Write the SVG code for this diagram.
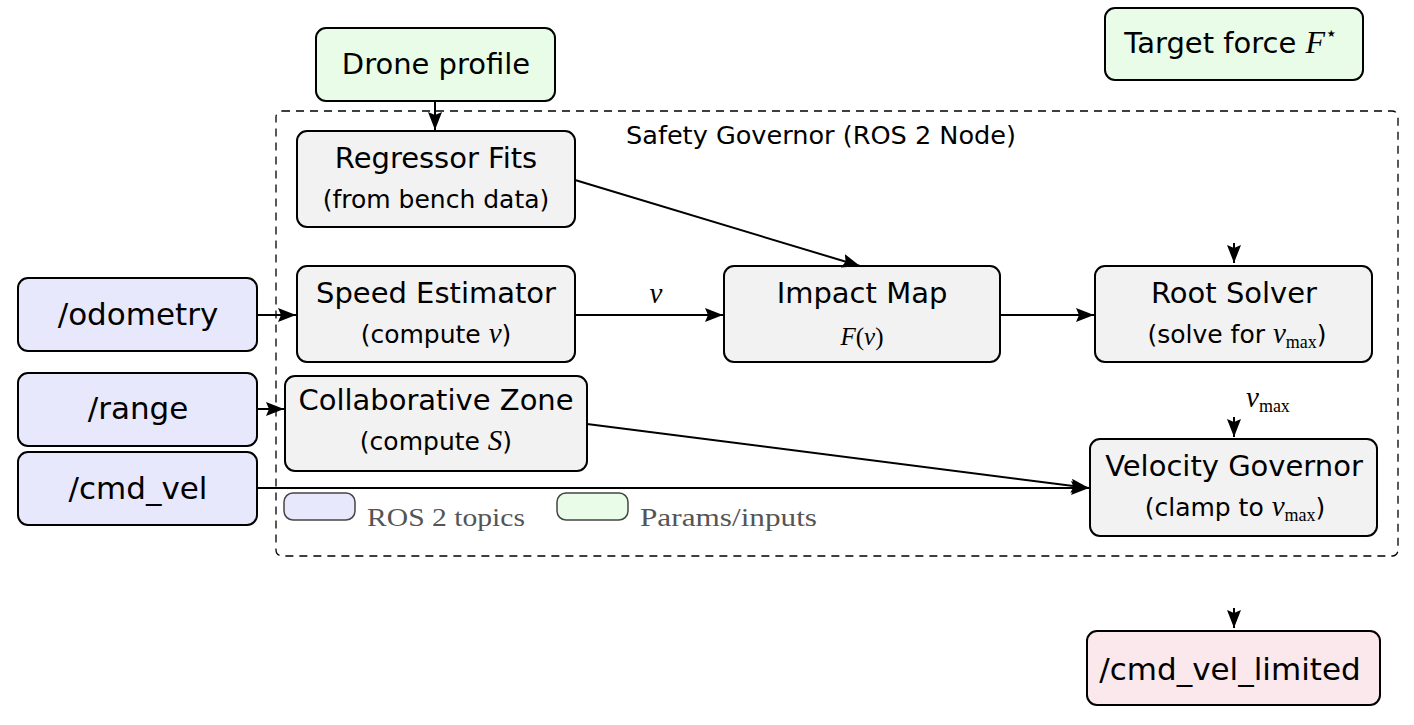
<svg xmlns="http://www.w3.org/2000/svg" width="1414" height="725" viewBox="0 0 1414 725">
<defs>
<marker id="arr" markerUnits="userSpaceOnUse" markerWidth="22" markerHeight="18" refX="18" refY="7" orient="auto">
<path d="M0,0 L18,7 L0,14 L3,7 z" fill="#000"/>
</marker>
<style>
.box{stroke:#000;stroke-width:2}
.topic{fill:#e8e8fc}
.param{fill:#e8fce8}
.proc{fill:#f2f2f2}
.out{fill:#fbe8ec}
.t{font-family:"DejaVu Sans",sans-serif;font-size:29px;fill:#000;text-anchor:middle}
.s{font-family:"DejaVu Sans",sans-serif;font-size:25px;fill:#000;text-anchor:middle}
.tp{font-family:"DejaVu Sans",sans-serif;font-size:31px;fill:#000;text-anchor:middle}
.m{font-family:"Liberation Serif",serif;font-style:italic}
.sub{font-family:"Liberation Serif",serif;font-style:normal;font-size:18px}
.leg{font-family:"Liberation Serif",serif;font-size:25px;fill:#555}
.c{stroke:#000;stroke-width:2;fill:none}
</style>
</defs>
<rect x="0" y="0" width="1414" height="725" fill="#fff"/>

<g id="container">
<rect x="276" y="111" width="1122" height="445" rx="6" fill="none" stroke="#000" stroke-width="1.3" stroke-dasharray="8,6"/>
<text x="821" y="144" font-family="DejaVu Sans,sans-serif" font-size="24" text-anchor="middle" fill="#000" textLength="390" lengthAdjust="spacingAndGlyphs">Safety Governor (ROS 2 Node)</text>
</g>

<g id="drone-profile">
<rect class="box param" x="316" y="28" width="239" height="73" rx="10"/>
<text class="t" x="436" y="74">Drone profile</text>
</g>
<g id="target-force">
<rect class="box param" x="1105" y="8" width="258" height="72" rx="10"/>
<text class="t" x="1231" y="53">Target force <tspan class="m" font-size="32">F</tspan><tspan font-size="20" dy="-13">⋆</tspan></text>
</g>
<g id="regressor">
<rect class="box proc" x="297" y="131" width="278" height="96" rx="10"/>
<text class="t" x="436" y="168">Regressor Fits</text>
<text class="s" x="436" y="208">(from bench data)</text>
</g>
<g id="speed-estimator">
<rect class="box proc" x="297" y="266" width="278" height="96" rx="10"/>
<text class="t" x="436" y="303">Speed Estimator</text>
<text class="s" x="436" y="343">(compute <tspan class="m" font-size="29">v</tspan>)</text>
</g>
<g id="collab-zone">
<rect class="box proc" x="285" y="376" width="302" height="95" rx="10"/>
<text class="t" x="436" y="410">Collaborative Zone</text>
<text class="s" x="436" y="450">(compute <tspan class="m" font-size="29">S</tspan>)</text>
</g>
<g id="impact-map">
<rect class="box proc" x="724" y="266" width="276" height="96" rx="10"/>
<text class="t" x="862" y="303">Impact Map</text>
<text class="s m" x="862" y="345" font-size="30">F<tspan font-style="normal">(</tspan>v<tspan font-style="normal">)</tspan></text>
</g>
<g id="root-solver">
<rect class="box proc" x="1095" y="266" width="277" height="96" rx="10"/>
<text class="t" x="1234" y="303">Root Solver</text>
<text class="s" x="1237" y="343">(solve for <tspan class="m" font-size="29">v</tspan><tspan class="sub" dy="5">max</tspan><tspan dy="-5">)</tspan></text>
</g>
<g id="velocity-governor">
<rect class="box proc" x="1090" y="439" width="287" height="97" rx="10"/>
<text class="t" x="1234" y="476">Velocity Governor</text>
<text class="s" x="1235" y="516">(clamp to <tspan class="m" font-size="29">v</tspan><tspan class="sub" dy="5">max</tspan><tspan dy="-5">)</tspan></text>
</g>
<g id="odometry">
<rect class="box topic" x="18" y="278" width="239" height="73" rx="10"/>
<text class="tp" x="138" y="325">/odometry</text>
</g>
<g id="range">
<rect class="box topic" x="18" y="373" width="239" height="73" rx="10"/>
<text class="tp" x="138" y="419">/range</text>
</g>
<g id="cmd-vel">
<rect class="box topic" x="18" y="452" width="239" height="73" rx="10"/>
<text class="tp" x="138" y="499">/cmd_vel</text>
</g>
<g id="cmd-vel-limited">
<rect class="box out" x="1087" y="631" width="293" height="74" rx="10"/>
<text class="tp" x="1230" y="680">/cmd_vel_limited</text>
</g>

<g id="legend">
<rect x="284" y="493" width="71" height="27" rx="9" fill="#e8e8fc" stroke="#444" stroke-width="1.5"/>
<text class="leg" x="367" y="526" textLength="158" lengthAdjust="spacingAndGlyphs">ROS 2 topics</text>
<rect x="557" y="493" width="71" height="27" rx="9" fill="#e8fce8" stroke="#444" stroke-width="1.5"/>
<text class="leg" x="640" y="526" textLength="177" lengthAdjust="spacingAndGlyphs">Params/inputs</text>
</g>

<g id="connectors">
<line class="c" x1="435" y1="101" x2="435" y2="130" marker-end="url(#arr)"/>
<line class="c" x1="575" y1="180" x2="860" y2="266" marker-end="url(#arr)"/>
<line class="c" x1="575" y1="315" x2="723" y2="315" marker-end="url(#arr)"/>
<text x="656" y="303" font-family="Liberation Serif,serif" font-style="italic" font-size="29" text-anchor="middle">v</text>
<line class="c" x1="1000" y1="315" x2="1094" y2="315" marker-end="url(#arr)"/>
<line class="c" x1="257" y1="315" x2="296" y2="315" marker-end="url(#arr)"/>
<line class="c" x1="257" y1="409" x2="284" y2="409" marker-end="url(#arr)"/>
<line class="c" x1="587" y1="424" x2="1089" y2="488" marker-end="url(#arr)"/>
<line class="c" x1="257" y1="488" x2="1089" y2="488" marker-end="url(#arr)"/>
<line class="c" x1="1234" y1="243" x2="1234" y2="263" marker-end="url(#arr)"/>
<line class="c" x1="1234" y1="417" x2="1234" y2="437" marker-end="url(#arr)"/>
<text x="1246" y="407" font-family="Liberation Serif,serif" font-size="29"><tspan font-style="italic">v</tspan><tspan font-size="18" dy="5">max</tspan></text>
<line class="c" x1="1234" y1="608" x2="1234" y2="628" marker-end="url(#arr)"/>
</g>
</svg>
